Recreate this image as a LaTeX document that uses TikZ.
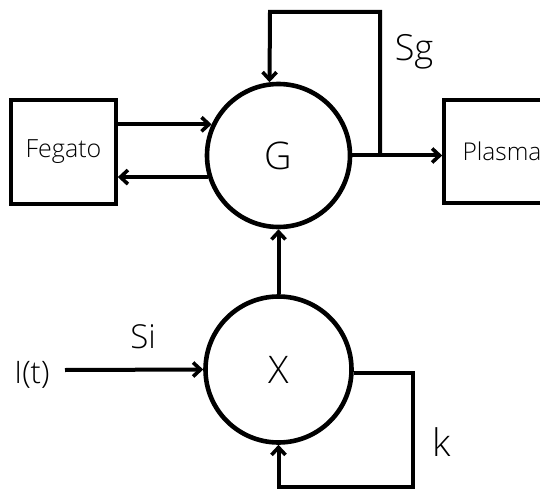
\documentclass[tikz,border=0pt]{standalone}
\usepackage{fontspec}
\setmainfont{Open Sans Light}
\usetikzlibrary{arrows.meta}
\begin{document}
\begin{tikzpicture}[x=1pt,y=-1pt,
  circ/.style={draw,circle,line width=4.6pt,minimum size=143pt,inner sep=0pt,font=\fontsize{38}{40}\selectfont},
  boxn/.style={draw,rectangle,line width=3.6pt,inner sep=0pt,font=\fontsize{25}{27}\selectfont},
  arr/.style={line width=4pt,-{Straight Barb[length=7.5pt,width=14pt,line width=3.6pt]}},
  lbl/.style={anchor=base,inner sep=0pt,font=\fontsize{36}{38}\selectfont}]
\useasboundingbox (0,0) rectangle (540,489);
\node[circ] (G) at (278.5,155.5) {G};
\node[circ,minimum size=146pt] (X) at (278.5,369.5) {X};
\node[boxn,minimum width=105pt,minimum height=104pt] (F) at (63.5,152) {Fegato};
\node[boxn,minimum width=116pt,minimum height=103pt,font=\fontsize{24.5}{27}\selectfont] (P) at (502,151.5) {Plasma};
\node[lbl] (Sg) at (414,61) {Sg};
\node[lbl,font=\fontsize{33}{35}\selectfont] (Si) at (143,348) {Si};
\node[lbl,font=\fontsize{31}{33}\selectfont] (I) at (32,383) {I(t)};
\node[lbl,font=\fontsize{38}{40}\selectfont] (k) at (442,456) {k};
\coordinate (sgj) at (380,153);
\coordinate (sgc) at (270,12);
\coordinate (kc) at (413,487);
\coordinate (is) at (65,370);
\draw[arr] (F.east |- G.155) -- (G.155);
\draw[arr] (G.197) -- (F.east |- G.197);
\draw[arr] (G.east) -- (P.west |- G.east);
\draw[arr] (sgj) |- (sgc) -- (G.97);
\draw[arr] (X.north) -- (G.south);
\draw[arr] (is) -- (X.west);
\draw[arr] (X.-3) -| (kc) -| (X.south);
\end{tikzpicture}
\end{document}
